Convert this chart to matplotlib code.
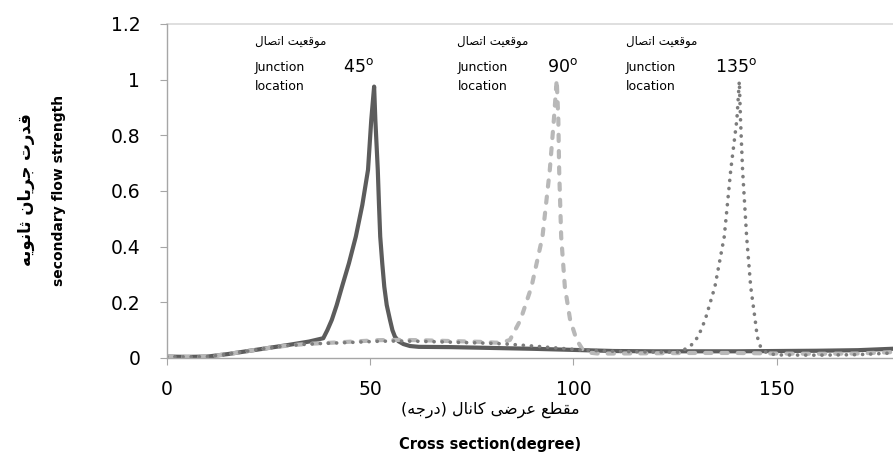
import matplotlib
matplotlib.use('Agg')
import matplotlib.pyplot as plt

# ---- data ----
x45 = [0, 5, 10, 15, 20, 25, 30, 35, 38.5, 39.5, 40.6, 41.8, 43.1, 44.8, 46.5, 48.1, 49.5, 50.3,
       51, 51.3, 51.9, 52.2, 52.5, 53.0, 53.5, 54.1, 54.9, 55.5, 56.1, 57.0, 58.2, 59.8, 62,
       70, 80, 90, 100, 110, 120, 130, 140, 150, 160, 170, 180]
y45 = [0.005, 0.004, 0.005, 0.014, 0.025, 0.036, 0.047, 0.059, 0.071, 0.1, 0.137, 0.19, 0.256,
       0.34, 0.436, 0.55, 0.676, 0.856, 0.975, 0.856, 0.676, 0.55, 0.436, 0.34, 0.256, 0.19,
       0.137, 0.1, 0.077, 0.06, 0.05, 0.043, 0.04, 0.039, 0.036, 0.033, 0.029, 0.025, 0.024,
       0.024, 0.024, 0.025, 0.026, 0.028, 0.034]

x90 = [0, 5, 10, 15, 20, 25, 30, 35, 38, 42, 47, 52, 57, 62, 67, 72, 77, 81, 82.8, 84.4, 87.0,
       89.7, 92.4, 94.2, 95.2, 95.9, 96.3, 96.5, 97.0, 97.9, 99.2, 100.8, 102.2, 104.1, 106,
       110, 120, 130, 140, 150, 160, 170, 180]
y90 = [0.005, 0.004, 0.005, 0.014, 0.025, 0.036, 0.045, 0.051, 0.053, 0.056, 0.06, 0.064, 0.065,
       0.064, 0.062, 0.06, 0.058, 0.055, 0.057, 0.065, 0.137, 0.256, 0.436, 0.676, 0.856, 1.0,
       0.856, 0.676, 0.436, 0.256, 0.137, 0.065, 0.032, 0.019, 0.016, 0.016, 0.017, 0.018,
       0.018, 0.016, 0.015, 0.016, 0.022]

x135 = [0, 5, 10, 15, 20, 25, 30, 35, 38, 42, 47, 52, 57, 62, 67, 72, 77, 81, 83.6, 90, 95,
        101.6, 110, 120, 126, 128.7, 130.7, 132.4, 134.8, 137.1, 138.7, 140.2, 140.8, 141.1,
        141.6, 142.6, 143.6, 144.7, 145.2, 146.0, 147.5, 150, 160, 170, 180]
y135 = [0.005, 0.004, 0.005, 0.014, 0.025, 0.036, 0.045, 0.05, 0.052, 0.054, 0.057, 0.06, 0.061,
        0.06, 0.058, 0.056, 0.054, 0.052, 0.05, 0.043, 0.037, 0.029, 0.024, 0.021, 0.021, 0.041,
        0.077, 0.137, 0.256, 0.436, 0.676, 0.856, 0.994, 0.856, 0.676, 0.436, 0.256, 0.137,
        0.077, 0.041, 0.018, 0.011, 0.01, 0.012, 0.019]

yticks = [0, 0.2, 0.4, 0.6, 0.8, 1, 1.2]
ytick_labels = ['0', '0.2', '0.4', '0.6', '0.8', '1', '1.2']
xticks = [0, 50, 100, 150]

junction_x = [21.7, 71.5, 112.9]
angle_x = [43.4, 93.4, 134.8]
angle_labels = ['45', '90', '135']
fa_label_x = [30.4, 80.1, 121.7]

fa_junction = 'موقعیت اتصال'
fa_ylabel = 'قدرت جریان ثانویه'
fa_xlabel = 'مقطع عرضی کانال (درجه)'

# arabic letters -> (isolated, final, initial, medial); matplotlib does no shaping
FORMS = {
    'ا': ('\ufe8d', '\ufe8e', None, None),
    'ت': ('\ufe95', '\ufe96', '\ufe97', '\ufe98'),
    'ث': ('\ufe99', '\ufe9a', '\ufe9b', '\ufe9c'),
    'ج': ('\ufe9d', '\ufe9e', '\ufe9f', '\ufea0'),
    'د': ('\ufea9', '\ufeaa', None, None),
    'ر': ('\ufead', '\ufeae', None, None),
    'ص': ('\ufeb9', '\ufeba', '\ufebb', '\ufebc'),
    'ض': ('\ufebd', '\ufebe', '\ufebf', '\ufec0'),
    'ط': ('\ufec1', '\ufec2', '\ufec3', '\ufec4'),
    'ع': ('\ufec9', '\ufeca', '\ufecb', '\ufecc'),
    'ق': ('\ufed5', '\ufed6', '\ufed7', '\ufed8'),
    'ل': ('\ufedd', '\ufede', '\ufedf', '\ufee0'),
    'م': ('\ufee1', '\ufee2', '\ufee3', '\ufee4'),
    'ن': ('\ufee5', '\ufee6', '\ufee7', '\ufee8'),
    'ه': ('\ufee9', '\ufeea', '\ufeeb', '\ufeec'),
    'و': ('\ufeed', '\ufeee', None, None),
    'ی': ('\ufeef', '\ufef0', '\ufef3', '\ufef4'),
    'ک': ('\ufb8e', '\ufb8f', '\ufb90', '\ufb91'),
}


def shape(s):
    out = []
    for i, ch in enumerate(s):
        f = FORMS.get(ch)
        if f is None:
            out.append(ch)
            continue
        prev = FORMS.get(s[i - 1]) if i > 0 else None
        nxt = FORMS.get(s[i + 1]) if i + 1 < len(s) else None
        join_prev = prev is not None and prev[2] is not None
        join_next = f[2] is not None and nxt is not None
        if join_prev and join_next:
            out.append(f[3])
        elif join_prev:
            out.append(f[1])
        elif join_next:
            out.append(f[2])
        else:
            out.append(f[0])
    vis = ''.join(reversed(out))
    return vis.translate(str.maketrans('()', ')('))


plt.rcParams['font.family'] = ['DejaVu Sans']
plt.rcParams['mathtext.default'] = 'regular'

fig = plt.figure(figsize=(8.93, 4.54), dpi=100)
ax = fig.add_axes([0.1867, 0.2115, 0.8197, 0.7357])

ax.plot(x45, y45, color='#5c5c5c', lw=3.0, solid_joinstyle='round', solid_capstyle='round')
ax.plot(x90, y90, color='#b8b8b8', lw=3.0, linestyle=(0, (1.5, 2.4)), dash_capstyle='round',
        dash_joinstyle='round')
ax.plot(x135, y135, color='#7c7c7c', lw=2.6, linestyle=(0, (0.05, 2.2)), dash_capstyle='round')

ax.set_xlim(0, 180)
ax.set_ylim(0, 1.2)
ax.set_xticks(xticks)
ax.set_yticks(yticks)
ax.set_yticklabels(ytick_labels)
ax.axhline(1.2, color='#d9d9d9', lw=1.2, clip_on=False, zorder=0)

for s in ['top', 'right']:
    ax.spines[s].set_visible(False)
for s in ['left', 'bottom']:
    ax.spines[s].set_color('#a6a6a6')
    ax.spines[s].set_linewidth(1.0)
ax.tick_params(axis='y', direction='out', length=5, color='#a6a6a6', labelsize=13.5, pad=14)
ax.tick_params(axis='x', direction='out', length=5, color='#a6a6a6', labelsize=13.5, pad=11)

for i in range(3):
    ax.text(fa_label_x[i], 1.137, shape(fa_junction), ha='center', va='center', fontsize=8.5)
    ax.text(junction_x[i], 1.044, 'Junction', ha='left', va='center', fontsize=9)
    ax.text(junction_x[i], 0.976, 'location', ha='left', va='center', fontsize=9)
    ax.text(angle_x[i], 1.044, angle_labels[i] + r'$^{o}$', ha='left', va='center', fontsize=12.5)

fig.text(26 / 893, 1 - 190 / 454, shape(fa_ylabel), rotation=90, ha='center', va='center',
         fontsize=12, fontweight='bold')
fig.text(59 / 893, 1 - 190 / 454, 'secondary flow strength', rotation=90, ha='center',
         va='center', fontsize=10, fontweight='bold')
fig.text(490 / 893, 1 - 410 / 454, shape(fa_xlabel), ha='center', va='center', fontsize=11.5)
fig.text(490 / 893, 1 - 444 / 454, 'Cross section(degree)', ha='center', va='center',
         fontsize=10.5, fontweight='bold')

fig.savefig('out.png', dpi=100)
